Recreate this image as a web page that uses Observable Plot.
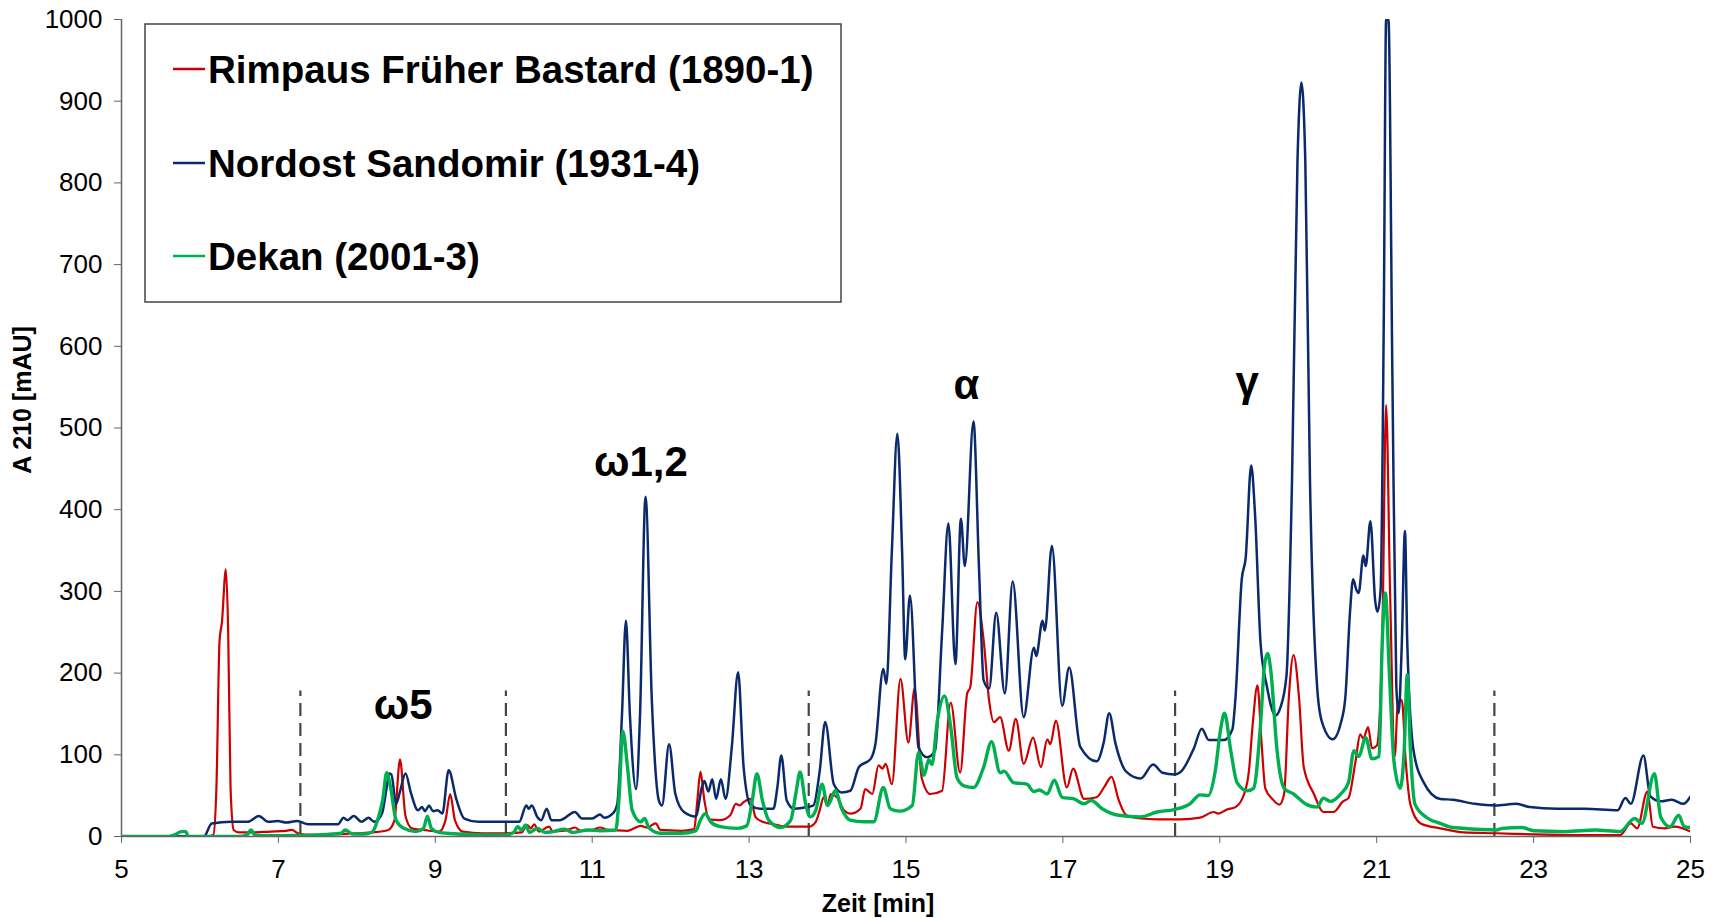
<!DOCTYPE html>
<html><head><meta charset="utf-8">
<script src="https://cdn.jsdelivr.net/npm/d3@7"></script>
<script src="https://cdn.jsdelivr.net/npm/@observablehq/plot@0.6"></script>
<style>html,body{margin:0;padding:0;background:#fff;} svg{display:block;}</style>
</head><body><div id="chart"></div>
<script>
const seriesNames = ["Rimpaus Früher Bastard (1890-1)", "Nordost Sandomir (1931-4)", "Dekan (2001-3)"];
const seriesColors = ["#CC0000", "#0B2A6B", "#00B050"];
const seriesWidths = [2.2, 2.5, 3.4];

// [Zeit (min), A 210 (mAU)]
const rimpaus = [[5,0],[6.1,0],[6.17,2],[6.21,60],[6.25,240],[6.28,262],[6.33,327],[6.36,250],[6.39,60],[6.43,8],[6.5,5],[6.7,5],[6.9,6],[7.1,7],[7.17,8],[7.25,4],[7.4,2],[7.8,3],[8.0,4],[8.2,5],[8.4,8],[8.48,20],[8.55,94],[8.62,25],[8.7,10],[8.85,8],[9.05,6],[9.13,20],[9.19,52],[9.25,20],[9.35,6],[9.6,4],[9.9,4],[10.1,5],[10.17,14],[10.22,10],[10.26,15],[10.32,6],[10.45,12],[10.5,6],[10.65,7],[10.78,11],[10.85,7],[11.0,8],[11.1,11],[11.2,8],[11.45,7],[11.62,13],[11.7,11],[11.81,16],[11.87,8],[12.13,7],[12.3,9],[12.34,44],[12.38,79],[12.43,44],[12.49,21],[12.63,20],[12.76,26],[12.83,40],[12.88,38],[12.93,42],[13.02,46],[13.08,24],[13.17,18],[13.31,15],[13.48,12],[13.76,12],[13.85,18],[13.9,32],[13.95,48],[14.0,38],[14.04,52],[14.12,48],[14.21,32],[14.29,28],[14.42,34],[14.48,58],[14.57,52],[14.65,87],[14.7,83],[14.74,89],[14.82,64],[14.93,193],[15.03,115],[15.11,181],[15.2,72],[15.31,52],[15.46,56],[15.57,164],[15.69,78],[15.78,175],[15.82,183],[15.91,287],[15.99,240],[16.06,166],[16.12,140],[16.2,146],[16.31,105],[16.4,144],[16.5,89],[16.62,121],[16.72,85],[16.8,119],[16.84,113],[16.91,142],[17.05,60],[17.13,83],[17.27,46],[17.43,48],[17.53,61],[17.62,73],[17.71,45],[17.81,26],[17.99,22],[18.2,21],[18.5,21],[18.75,23],[18.92,30],[18.98,28],[19.09,33],[19.2,36],[19.31,52],[19.37,79],[19.42,138],[19.48,185],[19.53,118],[19.58,59],[19.67,46],[19.76,39],[19.82,52],[19.88,170],[19.94,222],[20.01,170],[20.07,85],[20.2,52],[20.32,30],[20.45,30],[20.57,43],[20.64,47],[20.73,92],[20.79,125],[20.83,120],[20.89,134],[20.94,108],[21.0,111],[21.07,236],[21.12,528],[21.17,302],[21.23,98],[21.27,164],[21.32,167],[21.37,92],[21.43,39],[21.56,16],[21.81,10],[22.11,5],[22.53,4],[23.0,2.5],[23.6,1.6],[24.1,1.6],[24.24,16],[24.32,10],[24.45,55],[24.52,12],[24.67,10],[24.8,12],[25,6]];

const nordost = [[5,0],[6.05,0],[6.15,16],[6.4,18],[6.61,18],[6.75,25],[6.87,18],[6.99,19],[7.1,17],[7.24,19],[7.38,15],[7.66,15],[7.76,15],[7.83,23],[7.88,20],[7.96,25],[8.06,18],[8.15,23],[8.22,18],[8.32,28],[8.38,60],[8.41,77],[8.44,76],[8.5,40],[8.55,55],[8.62,77],[8.69,53],[8.78,32],[8.83,36],[8.87,31],[8.92,38],[8.97,31],[9.03,32],[9.09,28],[9.17,81],[9.27,45],[9.37,22],[9.55,18],[9.9,18],[10.07,18],[10.16,38],[10.19,34],[10.23,38],[10.3,24],[10.35,20],[10.42,34],[10.48,20],[10.59,20],[10.78,30],[10.87,22],[11.0,22],[11.1,27],[11.15,23],[11.27,29],[11.32,40],[11.38,150],[11.43,264],[11.48,150],[11.56,58],[11.61,150],[11.68,416],[11.76,167],[11.85,44],[11.89,38],[11.98,113],[12.06,52],[12.17,30],[12.32,24.5],[12.4,61],[12.43,68],[12.48,55],[12.53,70],[12.58,46],[12.64,70],[12.7,46],[12.78,110],[12.86,201],[12.93,85],[13.02,38],[13.14,34],[13.31,34],[13.36,60],[13.41,99],[13.48,44],[13.57,34],[13.74,36],[13.82,38],[13.9,80],[13.97,140],[14.08,64],[14.18,54],[14.29,56],[14.4,85],[14.55,95],[14.61,113],[14.71,205],[14.75,187],[14.82,350],[14.89,493],[14.95,350],[14.99,217],[15.05,295],[15.16,109],[15.27,97],[15.37,105],[15.46,250],[15.54,383],[15.63,211],[15.7,389],[15.75,331],[15.86,508],[15.93,330],[15.99,191],[16.06,181],[16.15,274],[16.26,175],[16.36,312],[16.5,146],[16.63,231],[16.66,221],[16.74,264],[16.77,252],[16.86,356],[16.99,160],[17.08,207],[17.22,110],[17.43,92],[17.52,115],[17.59,151],[17.67,114],[17.81,79],[17.99,71],[18.15,88],[18.27,78],[18.42,76],[18.5,79],[18.67,108],[18.77,132],[18.86,118],[19.05,118],[19.16,131],[19.2,170],[19.28,315],[19.33,341],[19.4,454],[19.45,393],[19.52,236],[19.6,184],[19.71,148],[19.77,157],[19.85,197],[19.92,433],[19.99,826],[20.04,923],[20.09,826],[20.15,433],[20.24,184],[20.3,141],[20.44,119],[20.54,138],[20.6,170],[20.66,275],[20.7,315],[20.74,302],[20.77,298],[20.83,344],[20.86,331],[20.92,386],[20.98,289],[21.01,275],[21.05,302],[21.09,630],[21.12,1000],[21.15,1000],[21.2,564],[21.25,184],[21.28,151],[21.32,236],[21.36,374],[21.39,236],[21.47,105],[21.6,66],[21.81,46],[21.97,45],[22.25,40],[22.51,38],[22.78,40],[22.95,36],[23.3,34],[23.65,34],[24.07,32],[24.17,47],[24.24,40],[24.4,99],[24.49,49],[24.63,43],[24.76,45],[24.91,40],[25,49]];

const dekan = [[5,0],[5.6,0],[5.7,3],[5.76,6],[5.82,6],[5.85,0],[6.5,0],[6.6,2],[6.65,8],[6.7,2],[6.8,1],[7.0,1],[7.5,2],[7.8,4],[7.85,8],[7.95,3],[8.1,3],[8.2,6],[8.28,25],[8.33,45],[8.38,78],[8.43,60],[8.5,20],[8.6,10],[8.75,6],[8.85,10],[8.9,25],[8.95,10],[9.05,5],[9.3,3],[9.6,2],[9.9,2],[10.0,5],[10.05,12],[10.1,8],[10.15,14],[10.2,5],[10.3,10],[10.4,5],[10.5,6],[10.65,9],[10.75,5],[10.95,8],[11.1,7],[11.3,8],[11.34,44],[11.39,129],[11.45,85],[11.51,32],[11.62,18],[11.67,22],[11.72,11],[11.87,4],[12.13,4],[12.32,7],[12.38,20],[12.44,28],[12.51,18],[12.63,12],[12.85,10],[12.97,13],[13.04,44],[13.1,77],[13.17,44],[13.25,20],[13.4,11],[13.53,20],[13.6,55],[13.65,79],[13.72,40],[13.78,24],[13.85,32],[13.93,64],[14.0,38],[14.1,56],[14.18,34],[14.29,20],[14.46,18],[14.59,18],[14.71,60],[14.8,34],[14.92,31],[15.08,38],[15.16,103],[15.23,75],[15.29,94],[15.33,88],[15.4,142],[15.49,172],[15.57,134],[15.65,72],[15.74,62],[15.86,60],[15.99,85],[16.09,116],[16.2,78],[16.25,80],[16.37,66],[16.54,64],[16.63,55],[16.7,57],[16.8,52],[16.89,69],[16.99,48],[17.14,46],[17.27,40],[17.36,44],[17.5,34],[17.71,26],[17.99,24],[18.2,30],[18.42,33],[18.62,40],[18.75,51],[18.85,50],[18.94,79],[19.01,131],[19.06,151],[19.14,105],[19.22,66],[19.35,56],[19.43,59],[19.52,138],[19.57,210],[19.61,224],[19.65,203],[19.73,105],[19.82,59],[19.94,52],[20.11,39],[20.24,36],[20.32,47],[20.41,43],[20.54,52],[20.64,66],[20.71,105],[20.77,98],[20.86,121],[20.94,95],[21.03,98],[21.07,236],[21.11,298],[21.16,203],[21.22,92],[21.3,59],[21.35,105],[21.39,198],[21.43,105],[21.49,39],[21.64,23],[21.81,16],[21.97,11],[22.53,8],[22.6,10],[22.85,11],[23.0,7],[23.4,6],[23.79,8],[24.1,6],[24.29,22],[24.38,16],[24.54,77],[24.62,24],[24.74,12],[24.85,26],[24.92,12],[25,11]];

const xTicks = [5, 7, 9, 11, 13, 15, 17, 19, 21, 23, 25];
const yTicks = [0, 100, 200, 300, 400, 500, 600, 700, 800, 900, 1000];
const dividerX = [7.28, 9.90, 13.76, 18.43, 22.50];
const dividerTop = 178;
const peakLabels = ["ω5", "ω1,2", "α", "γ"];
const peakX = [8.59, 11.62, 15.77, 19.35];
const peakY = [160, 458, 552, 556];
const xTitle = "Zeit [min]";
const yTitle = "A 210 [mAU]";

const FONT = "'Liberation Sans', Arial, Helvetica, sans-serif";
const seriesData = [rimpaus, nordost, dekan];

const plot = Plot.plot({
  width: 1721, height: 918,
  marginLeft: 121, marginRight: 31, marginTop: 19, marginBottom: 82,
  x: {domain: [5, 25], label: null},
  y: {domain: [0, 1000], label: null},
  style: {fontFamily: FONT, background: "#fff", color: "#000", overflow: "visible"},
  marks: [
    Plot.ruleX(dividerX, {y1: 0, y2: dividerTop, stroke: "#444", strokeWidth: 2.2, strokeDasharray: "13,7"}),
    ...seriesData.map((s, i) => Plot.line(s, {
      x: d => d[0], y: d => d[1],
      stroke: seriesColors[i], strokeWidth: seriesWidths[i],
      curve: "monotone-x", clip: true, strokeLinejoin: "round"
    })),
    Plot.ruleY([0], {stroke: "#666", strokeWidth: 1.5}),
    Plot.ruleX([5], {stroke: "#666", strokeWidth: 1.5}),
    Plot.axisX({ticks: xTicks, tickSize: 7, tickPadding: 16, fontSize: 26, stroke: "#666", tickFormat: d => String(d), label: null}),
    Plot.axisY({ticks: yTicks, tickSize: 7, tickPadding: 12, fontSize: 26, stroke: "#666", tickFormat: d => String(d), label: null}),
    Plot.text(peakLabels, {x: (d, i) => peakX[i], y: (d, i) => peakY[i], text: d => d,
      fontSize: 42, fontWeight: "bold", fill: "#000", textAnchor: "middle"})
  ]
});

document.getElementById("chart").appendChild(plot);

const svg = d3.select(plot);
// axis titles
svg.append("text").attr("x", 878).attr("y", 912).attr("text-anchor", "middle")
  .attr("font-family", FONT).attr("font-size", 25).attr("font-weight", "bold").attr("fill", "#000")
  .text(xTitle);
svg.append("text").attr("transform", "translate(31,400) rotate(-90)").attr("text-anchor", "middle")
  .attr("font-family", FONT).attr("font-size", 25).attr("font-weight", "bold").attr("fill", "#000")
  .text(yTitle);

// legend box
const lg = svg.append("g").attr("text-anchor", "start");
lg.append("rect").attr("x", 145).attr("y", 24).attr("width", 696).attr("height", 278)
  .attr("fill", "#fff").attr("stroke", "#444").attr("stroke-width", 1.5);
const rowY = [69, 163, 256];
seriesNames.forEach((name, i) => {
  lg.append("line").attr("x1", 173).attr("x2", 205).attr("y1", rowY[i]).attr("y2", rowY[i])
    .attr("stroke", seriesColors[i]).attr("stroke-width", 2.5);
  lg.append("text").attr("x", 208).attr("y", rowY[i]).attr("dy", "0.36em")
    .attr("text-anchor", "start")
    .attr("font-family", FONT).attr("font-size", 38.5).attr("font-weight", "bold").attr("fill", "#000")
    .text(name);
});
</script>
</body></html>
